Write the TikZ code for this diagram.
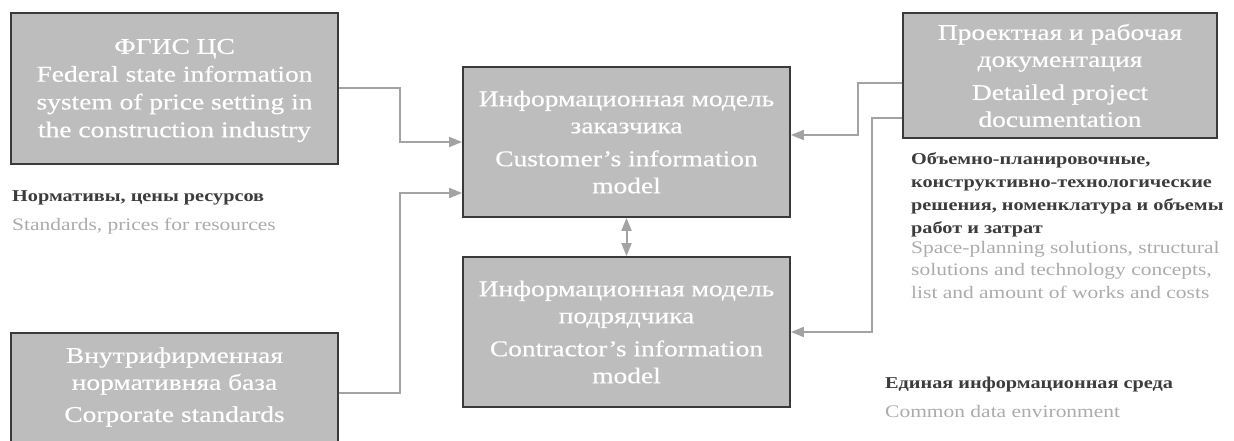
\documentclass[tikz,border=0pt]{standalone}
\usepackage{fontspec}
\setmainfont{Liberation Serif}[FakeStretch=1.22]
\newfontfamily\boxfont{Liberation Serif}[FakeStretch=1.22,FakeBold=0.5]
\usetikzlibrary{arrows.meta,calc}
\definecolor{boxfill}{HTML}{BDBDBD}
\definecolor{boxline}{HTML}{3A3A3A}
\definecolor{conncol}{HTML}{A3A3A3}
\definecolor{darklbl}{HTML}{3C3C3C}
\definecolor{lightlbl}{HTML}{ABABAB}
\begin{document}
\begin{tikzpicture}[x=1pt,y=-1pt,
  box/.style={draw=boxline,line width=1.8pt,fill=boxfill,inner sep=0pt,
    text=white,align=center,font=\boxfont\fontsize{22.5}{27}\selectfont},
  boxtext/.style={text=white,align=center,inner sep=0pt,font=\boxfont\fontsize{22.5}{27}\selectfont},
  conn/.style={draw=conncol,line width=2pt,-{Triangle[length=13pt,width=10pt]}},
  lbold/.style={inner sep=0pt,align=left,text=darklbl,font=\fontsize{16.6}{23.2}\selectfont\bfseries},
  llight/.style={inner sep=0pt,align=left,text=lightlbl,font=\fontsize{17.6}{22.5}\selectfont}]
\useasboundingbox (0,0) rectangle (1234,441);
\clip (0,0) rectangle (1234,441);
% boxes
\node[box,minimum width=327pt,minimum height=151pt,font=\boxfont\fontsize{22.5}{27.8}\selectfont] (fgis) at (174.5,88.5) {};
\node[boxtext,font=\boxfont\fontsize{22.5}{27.8}\selectfont] (ftext) at (174.5,90.5)
  {ФГИС ЦС\\Federal state information\\system of price setting in\\the construction industry};
\node[box,minimum width=327pt,minimum height=130pt] (vbox) at (174.5,398) {};
\node[boxtext] (vtext) at (174.5,387) {Внутрифирменная\\нормативняа база\\[5pt]Corporate standards};
\node[box,minimum width=327pt,minimum height=150pt] (cust) at (626.5,142)
  {Информационная модель\\заказчика\\[6pt]Customer’s information\\model};
\node[box,minimum width=327pt,minimum height=150pt] (contr) at (626.5,332)
  {Информационная модель\\подрядчика\\[6pt]Contractor’s information\\model};
\node[box,minimum width=314pt,minimum height=125pt] (proj) at (1060,75.5)
  {Проектная и рабочая\\документация\\[6pt]Detailed project\\documentation};
% labels
\node[lbold,anchor=base west] (normru) at (12,201) {Нормативы, цены ресурсов};
\node[llight,anchor=base west] (normen) at (12,230) {Standards, prices for resources};
\node[lbold,anchor=north west] (solru) at (911,152)
  {Объемно-планировочные,\\конструктивно-технологические\\решения, номенклатура и объемы\\работ и затрат};
\node[llight,anchor=north west] (solen) at (911,241)
  {Space-planning solutions, structural\\solutions and technology concepts,\\list and amount of works and costs};
\node[lbold,anchor=base west] (cderu) at (885,388) {Единая информационная среда};
\node[llight,anchor=base west] (cdeen) at (885,417) {Common data environment};
% connectors
\draw[conn] (fgis.east) -- (400,88.5) |- (cust.west);
\draw[conn] ($(vbox.east)+(0,-5)$) -- (400,393) |- ($(cust.west)+(0,51)$);
\draw[conn,{Triangle[length=13pt,width=10pt]}-{Triangle[length=13pt,width=10pt]}] (cust.south) -- (contr.north);
\draw[conn] ($(proj.west)+(0,7.5)$) -- (858,83) |- ($(cust.east)+(0,-7)$);
\draw[conn] ($(proj.west)+(0,42.5)$) -- (872,118) |- (contr.east);
\end{tikzpicture}
\end{document}
